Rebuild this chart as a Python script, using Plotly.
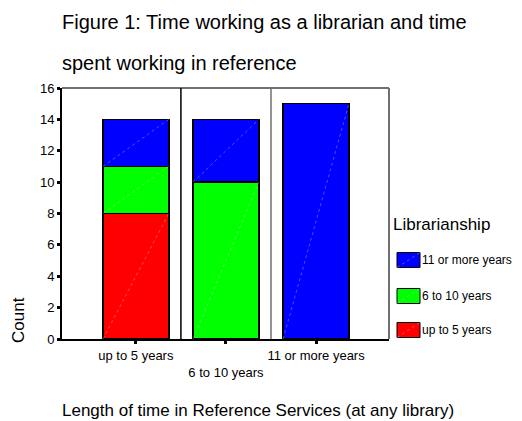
import plotly.graph_objects as go

# ---- data ----
categories = ["up to 5 years", "6 to 10 years", "11 or more years"]
tick_labels = ["up to 5 years", "<br>6 to 10 years", "11 or more years"]
series_names = ["up to 5 years", "6 to 10 years", "11 or more years"]
up_to_5 = [8, 0, 0]
six_to_10 = [3, 10, 0]
eleven_plus = [3, 4, 15]
series_values = [up_to_5, six_to_10, eleven_plus]
series_colors = ["#ff0000", "#00ff00", "#0000ff"]
y_ticks = [0, 2, 4, 6, 8, 10, 12, 14, 16]

FONT = "Liberation Sans, Arial, sans-serif"
BAR_W = 0.73
x_idx = list(range(len(categories)))

fig = go.Figure()
for name, vals, col in zip(series_names, series_values, series_colors):
    fig.add_trace(go.Bar(
        x=x_idx, y=vals, name=name, width=BAR_W,
        marker=dict(color=col, line=dict(color="black", width=1.5)),
        showlegend=False, hoverinfo="skip",
    ))

# faint diagonal strokes inside each segment (as in the original rendering)
for i in x_idx:
    base = 0
    for vals in series_values:
        v = vals[i]
        if v > 0:
            fig.add_shape(type="line", xref="x", yref="y",
                          x0=i - BAR_W / 2, x1=i + BAR_W / 2, y0=base, y1=base + v,
                          line=dict(color="rgba(255,255,255,0.3)", width=1, dash="dot"))
        base += v

fig.update_layout(
    barmode="stack",
    width=522, height=421,
    margin=dict(l=62, r=133, t=88, b=82),
    paper_bgcolor="white", plot_bgcolor="white",
    font=dict(family=FONT, size=13, color="black"),
    xaxis=dict(
        range=[-0.82, 2.81], tickvals=x_idx, ticktext=tick_labels,
        showline=True, linecolor="black", linewidth=2,
        ticks="outside", ticklen=3, tickwidth=3, tickcolor="black",
        showgrid=False, zeroline=False, tickfont=dict(size=13),
    ),
    yaxis=dict(
        range=[0, 16], tickvals=y_ticks,
        showline=True, linecolor="black", linewidth=2,
        ticks="outside", ticklen=3, tickwidth=3, tickcolor="black",
        showgrid=False, zeroline=False, tickfont=dict(size=13),
    ),
)

# frame: top and right border (gray), category separators
fig.add_shape(type="line", xref="paper", yref="paper", x0=0, x1=1, y0=1, y1=1,
              line=dict(color="#707070", width=2))
fig.add_shape(type="line", xref="paper", yref="paper", x0=1, x1=1, y0=0, y1=1,
              line=dict(color="#707070", width=2))
sep_colors = ["black", "#707070"]
for i in range(len(categories) - 1):
    fig.add_shape(type="line", xref="x", yref="paper", x0=i + 0.5, x1=i + 0.5,
                  y0=0, y1=1, line=dict(color=sep_colors[i], width=1.5))

# titles
fig.add_annotation(text="Figure 1: Time working as a librarian and time",
                   xref="paper", yref="paper", x=0, y=1, xanchor="left", yanchor="middle",
                   xshift=-2, yshift=88 - 22, showarrow=False, font=dict(size=20))
fig.add_annotation(text="spent working in reference",
                   xref="paper", yref="paper", x=0, y=1, xanchor="left", yanchor="middle",
                   xshift=-2, yshift=88 - 63, showarrow=False, font=dict(size=20))
fig.add_annotation(text="Length of time in Reference Services (at any library)",
                   xref="paper", yref="paper", x=0, y=0, xanchor="left", yanchor="middle",
                   xshift=-2, yshift=-(410 - 339), showarrow=False, font=dict(size=17))
fig.add_annotation(text="Count", textangle=-90,
                   xref="paper", yref="paper", x=0, y=0, xanchor="center", yanchor="middle",
                   xshift=-44, yshift=339 - 320, showarrow=False, font=dict(size=17))

# custom legend
fig.add_annotation(text="Librarianship", xref="paper", yref="paper", x=1, y=1,
                   xanchor="left", yanchor="middle", xshift=2, yshift=-(224 - 88),
                   showarrow=False, font=dict(size=17))
legend_rows_y = [330, 296, 260]  # pixel centers for up to 5, 6-10, 11+
H = 251.0
W = 327.0
for name, col, py in zip(series_names, series_colors, legend_rows_y):
    yc = (339 - py) / H
    x0 = 1 + (397 - 389) / W
    x1 = 1 + (420 - 389) / W
    fig.add_shape(type="rect", xref="paper", yref="paper",
                  x0=x0, x1=x1, y0=yc - 7.5 / H, y1=yc + 7.5 / H,
                  fillcolor=col, line=dict(color="black", width=1))
    fig.add_shape(type="line", xref="paper", yref="paper",
                  x0=x0, x1=x1, y0=yc - 7.5 / H, y1=yc + 7.5 / H,
                  line=dict(color="rgba(255,255,255,0.3)", width=1, dash="dot"))
    fig.add_annotation(text=name, xref="paper", yref="paper", x=x1, y=yc,
                       xanchor="left", yanchor="middle", showarrow=False,
                       font=dict(size=12))

fig.write_html("out.html", config={"displayModeBar": False},
               post_script="document.body.style.margin='0';")
